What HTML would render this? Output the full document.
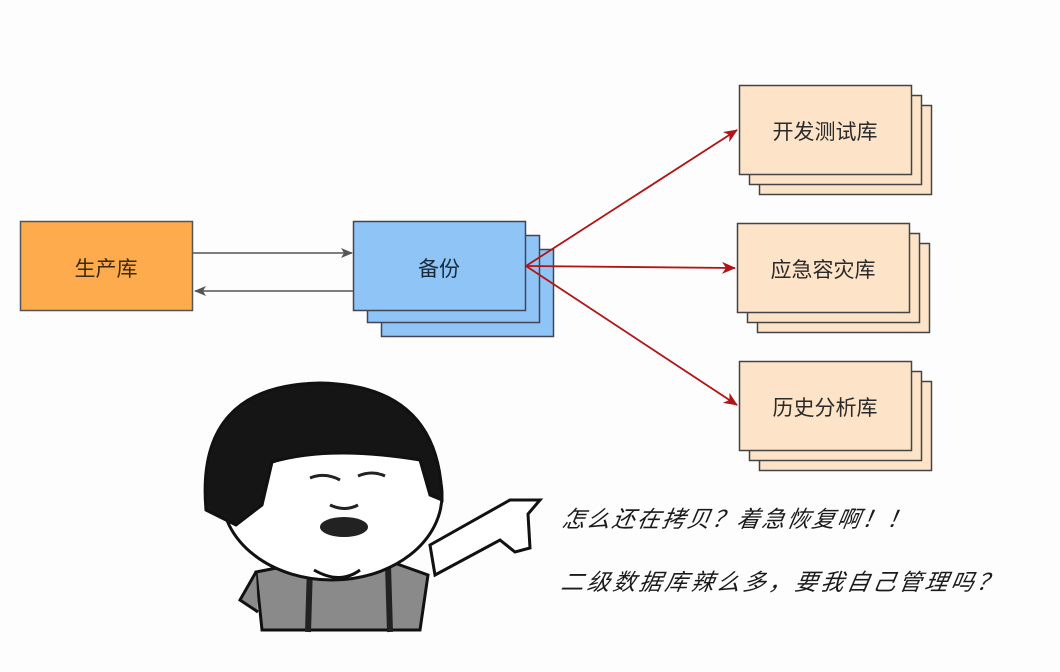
<!DOCTYPE html>
<html><head><meta charset="utf-8"><style>
html,body{margin:0;padding:0;background:#fdfdfd;}
svg{display:block;}
text{font-family:"Liberation Sans","Noto Sans CJK SC",sans-serif;}
</style></head><body>
<svg width="1060" height="672" viewBox="0 0 1060 672" xmlns="http://www.w3.org/2000/svg">
<defs>
<marker id="ga" markerWidth="12" markerHeight="10" refX="11" refY="5" orient="auto" markerUnits="userSpaceOnUse"><path d="M0,0 L12,5 L0,10 L3,5 Z" fill="#555"/></marker>
<marker id="ra" markerWidth="14" markerHeight="12" refX="13" refY="6" orient="auto" markerUnits="userSpaceOnUse"><path d="M0,0 L14,6 L0,12 L4,6 Z" fill="#b01515"/></marker>
</defs>
<rect width="1060" height="672" fill="#fdfdfd"/>
<rect x="20.5" y="221.5" width="172" height="89" fill="#fdab4c" stroke="#555" stroke-width="1.5"/>
<text x="106" y="276" font-size="21" fill="#3a2a10" text-anchor="middle">生产库</text>
<rect x="381.5" y="249.5" width="172" height="87" fill="#8ec4f6" stroke="#445" stroke-width="1.5"/>
<rect x="367.5" y="235.5" width="172" height="87" fill="#8ec4f6" stroke="#445" stroke-width="1.5"/>
<rect x="353.5" y="221.5" width="172" height="89" fill="#8ec4f6" stroke="#445" stroke-width="1.5"/>
<text x="439" y="276" font-size="21" fill="#1a2a3a" text-anchor="middle">备份</text>
<line x1="193" y1="253" x2="352" y2="253" stroke="#555" stroke-width="1.5" marker-end="url(#ga)"/>
<line x1="353" y1="291" x2="195" y2="291" stroke="#555" stroke-width="1.5" marker-end="url(#ga)"/>
<g fill="#fde3c8" stroke="#444" stroke-width="1.5">
<rect x="759.5" y="105.5" width="172" height="89"/><rect x="749.5" y="95.5" width="172" height="89"/><rect x="739.5" y="85.5" width="172" height="89"/>
<rect x="757.5" y="243.5" width="172" height="89"/><rect x="747.5" y="233.5" width="172" height="89"/><rect x="737.5" y="223.5" width="172" height="89"/>
<rect x="759.5" y="381.5" width="172" height="89"/><rect x="749.5" y="371.5" width="172" height="89"/><rect x="739.5" y="361.5" width="172" height="89"/>
</g>
<g font-size="21" fill="#2a2a2a" text-anchor="middle">
<text x="825" y="139">开发测试库</text>
<text x="823" y="277">应急容灾库</text>
<text x="825" y="415">历史分析库</text>
</g>
<g stroke="#b01515" stroke-width="1.8" fill="none">
<line x1="526" y1="266" x2="737" y2="130" marker-end="url(#ra)"/>
<line x1="526" y1="266" x2="735" y2="268" marker-end="url(#ra)"/>
<line x1="526" y1="266" x2="737" y2="405" marker-end="url(#ra)"/>
</g>
<g stroke="#111" stroke-width="3">
<path d="M256,572 L318,560 L386,560 L428,575 L420,630 L262,630 Z" fill="#8a8a8a"/>
<path d="M256,572 L240,600 L258,612" fill="#8a8a8a"/>
<line x1="310" y1="565" x2="308" y2="632" stroke="#222" stroke-width="6"/>
<line x1="388" y1="565" x2="390" y2="632" stroke="#222" stroke-width="6"/>
<path d="M430,545 L510,500 L540,500 L528,514 L530,548 L515,552 L500,540 L435,575 Z" fill="#fff"/>
<ellipse cx="332" cy="495" rx="110" ry="85" fill="#fff"/>
<path d="M314,570 Q340,585 360,570" fill="#fff"/>
<path d="M206,510 Q195,385 320,383 Q440,385 442,500 L430,495 L420,460 Q330,445 272,462 L262,505 L236,525 Z" fill="#151515"/>
</g>
<g fill="none" stroke="#222" stroke-width="3">
<path d="M310,478 Q325,472 340,480"/><path d="M358,476 Q372,470 385,476"/>
<path d="M330,505 Q345,512 358,505"/>
</g>
<ellipse cx="344" cy="527" rx="24" ry="10" fill="#222"/>
<g font-size="23" fill="#1a1a1a" font-style="italic" transform="skewX(-10)">
<text x="654" y="527" letter-spacing="2">怎么还在拷贝？着急恢复啊！！</text>
<text x="664" y="590" letter-spacing="3">二级数据库辣么多，要我自己管理吗？</text>
</g>
</svg>
</body></html>
